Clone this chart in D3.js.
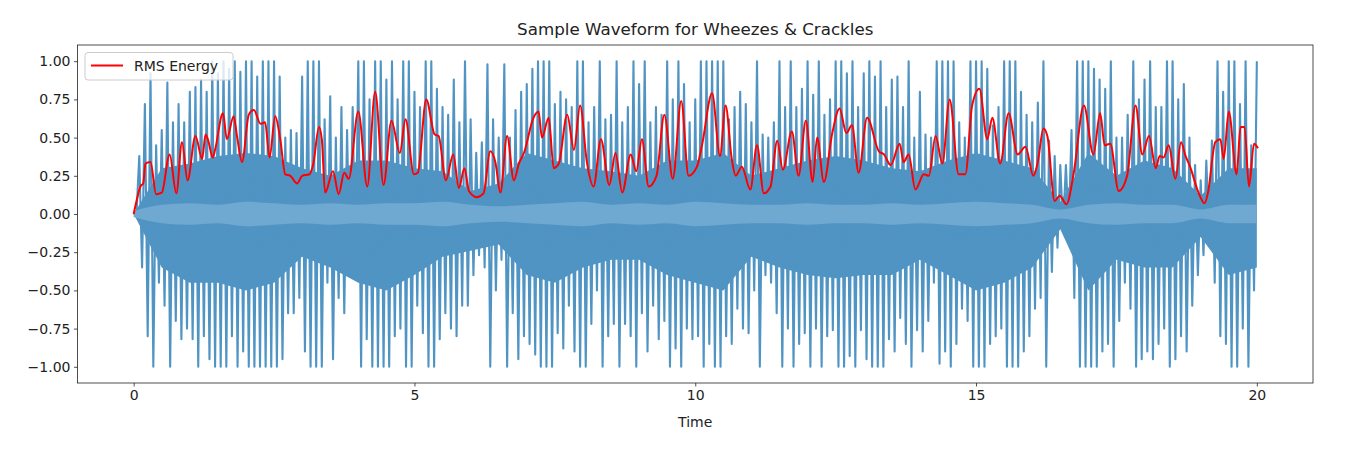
<!DOCTYPE html>
<html>
<head>
<meta charset="utf-8">
<script src="https://cdn.jsdelivr.net/npm/d3@7"></script>
<style>
  body { margin: 0; background: #fff; }
  text { font-family: "DejaVu Sans", sans-serif; fill: #222; }
</style>
</head>
<body>
<svg width="1355" height="451"></svg>
<script>

// waveform peaks, one pair every 0.1 s from 0 to 20 s
const waveStep = 0.1;
const waveTop = [
    0, 0.38, 0.72, 0.92, 0.45, 0.55, 0.86, 0.6, 0.72, 0.6,
    0.8, 0.83, 0.88, 0.8, 1, 0.92, 1, 0.95, 1, 0.93,
    1, 1, 0.9, 1, 1, 1, 0.9, 0.5, 0.55, 0.53,
    0.9, 1, 1, 1, 0.62, 0.77, 0.5, 0.7, 0.55, 0.7,
    1, 1, 0.75, 1, 1, 0.88, 1, 0.75, 1, 1,
    0.8, 0.7, 1, 1, 0.82, 0.7, 0.65, 0.88, 0.6, 1,
    0.62, 0.4, 0.47, 0.98, 0.62, 0.5, 0.98, 0.5, 0.68, 0.8,
    0.85, 0.95, 1, 1, 1, 0.72, 0.8, 0.75, 0.7, 1,
    1, 0.6, 0.7, 1, 0.62, 0.65, 1, 0.6, 0.7, 1,
    0.85, 1, 0.6, 0.7, 0.65, 1, 0.75, 1, 0.85, 0.6,
    0.75, 1, 1, 1, 1, 1, 0.62, 0.7, 0.8, 0.72,
    0.6, 1, 0.52, 0.5, 0.6, 1, 0.7, 1, 0.7, 0.82,
    1, 0.78, 1, 0.65, 0.75, 1, 1, 0.92, 1, 0.7,
    0.92, 1, 0.9, 1, 0.7, 0.88, 0.9, 0.7, 1, 0.5,
    0.8, 0.52, 0.5, 1, 1, 1, 1, 0.6, 0.5, 1,
    1, 1, 0.95, 0.58, 0.7, 1, 1, 1, 0.8, 0.65,
    0.6, 0.73, 1, 0.48, 0.38, 0.32, 0.32, 0.55, 1, 1,
    1, 0.95, 0.88, 0.82, 1, 0.5, 0.5, 0.65, 1, 0.75,
    0.88, 1, 0.7, 0.7, 1, 1, 0.75, 0.85, 0.5, 0.32,
    0.22, 0.35, 0.48, 1, 0.8, 1, 1, 0.72, 1, 0.45,
    1
];
const waveBottom = [
    0, -0.35, -0.8, -1, -0.45, -0.6, -1, -0.7, -0.82, -0.75,
    -0.82, -1, -0.8, -0.95, -1, -1, -1, -0.8, -1, -0.9,
    -1, -1, -1, -1, -1, -1, -0.95, -0.65, -0.65, -0.55,
    -0.9, -1, -1, -1, -0.45, -0.95, -0.55, -0.65, -0.4, -0.4,
    -1, -0.82, -1, -1, -1, -1, -0.8, -0.75, -1, -1,
    -0.6, -0.78, -1, -1, -0.82, -0.65, -0.75, -0.8, -0.6, -0.6,
    -0.4, -0.27, -0.35, -1, -0.5, -0.3, -1, -0.65, -0.95, -0.8,
    -0.85, -0.92, -1, -1, -1, -0.78, -0.88, -0.6, -0.9, -1,
    -1, -0.72, -0.5, -1, -0.8, -0.72, -1, -0.72, -0.8, -1,
    -0.65, -0.9, -0.6, -0.82, -0.7, -1, -0.88, -1, -0.75, -0.82,
    -0.8, -1, -0.85, -1, -1, -0.8, -0.85, -0.62, -0.75, -0.78,
    -0.5, -1, -0.4, -0.45, -0.65, -1, -0.75, -1, -0.85, -0.78,
    -1, -0.75, -1, -0.8, -0.76, -1, -1, -0.93, -1, -0.76,
    -0.95, -1, -1, -1, -0.82, -0.9, -0.68, -0.85, -1, -0.76,
    -0.9, -0.7, -0.45, -0.98, -0.9, -1, -0.85, -0.62, -0.7, -1,
    -1, -1, -0.85, -0.8, -0.75, -1, -1, -1, -0.9, -0.8,
    -0.62, -0.55, -1, -0.38, -0.22, -0.1, -0.1, -0.55, -1, -1,
    -1, -1, -0.9, -0.85, -1, -0.7, -0.45, -0.62, -1, -0.95,
    -0.9, -0.95, -0.85, -0.75, -1, -0.95, -0.8, -0.9, -0.6, -0.4,
    -0.27, -0.15, -0.45, -0.8, -0.85, -1, -1, -0.75, -1, -0.5,
    -1
];

// dense body of the waveform and the quiet band around zero, every 0.5 s
const bandStep = 0.5;
const bodyTop = [
    0, 0.3, 0.33, 0.38, 0.4, 0.38, 0.3, 0.25, 0.35, 0.35,
    0.3, 0.28, 0.15, 0.2, 0.4, 0.35, 0.3, 0.28, 0.25, 0.35,
    0.35, 0.4, 0.25, 0.3, 0.35, 0.38, 0.35, 0.3, 0.28, 0.35,
    0.4, 0.35, 0.3, 0.08, 0.4, 0.25, 0.35, 0.3, 0.12, 0.3,
    0.3
];
const bodyBottom = [
    0, -0.35, -0.45, -0.45, -0.5, -0.45, -0.28, -0.35, -0.45, -0.5,
    -0.4, -0.28, -0.24, -0.2, -0.4, -0.45, -0.35, -0.3, -0.3, -0.4,
    -0.45, -0.5, -0.28, -0.35, -0.4, -0.42, -0.4, -0.4, -0.3, -0.4,
    -0.5, -0.45, -0.35, -0.1, -0.5, -0.3, -0.35, -0.35, -0.15, -0.4,
    -0.35
];
const coreAmp = [
    0.02, 0.06, 0.07, 0.06, 0.08, 0.07, 0.06, 0.07, 0.06, 0.07,
    0.07, 0.08, 0.06, 0.05, 0.06, 0.07, 0.08, 0.06, 0.07, 0.06,
    0.08, 0.07, 0.06, 0.06, 0.07, 0.06, 0.06, 0.07, 0.06, 0.07,
    0.08, 0.07, 0.06, 0.03, 0.06, 0.07, 0.06, 0.06, 0.03, 0.06,
    0.06
];

const rmsTime = [
    0, 0.06, 0.12, 0.17, 0.21, 0.3, 0.4, 0.5, 0.64, 0.76, 0.86, 0.96,
    1.1, 1.22, 1.28, 1.32, 1.41, 1.45, 1.59, 1.66, 1.78, 1.84, 1.93,
    2.05, 2.14, 2.26, 2.34, 2.42, 2.52, 2.61, 2.7, 2.79, 2.91,
    3, 3.13, 3.2, 3.3, 3.35, 3.41, 3.55, 3.65, 3.75, 3.83,
    4, 4.16, 4.3, 4.45, 4.59, 4.74, 4.84, 4.99,
    5.06, 5.21, 5.36, 5.43, 5.56, 5.69, 5.79, 5.89, 5.97,
    6.11, 6.23, 6.35, 6.44, 6.53, 6.65, 6.77, 6.86, 6.95,
    7.12, 7.21, 7.27, 7.39, 7.48, 7.57, 7.72, 7.84, 7.95,
    8.07, 8.19, 8.32, 8.47, 8.58, 8.7, 8.85, 8.95,
    9.05, 9.17, 9.31, 9.45, 9.6, 9.75, 9.88,
    10.03, 10.12, 10.3, 10.44, 10.54, 10.65, 10.72, 10.83, 10.98,
    11.1, 11.22, 11.34, 11.46, 11.56, 11.72, 11.84, 11.97,
    12.09, 12.17, 12.29, 12.44, 12.57, 12.69, 12.79, 12.91,
    13.06, 13.27, 13.36, 13.48, 13.64, 13.71, 13.8, 13.92,
    14.07, 14.16, 14.28, 14.4, 14.53, 14.69, 14.81, 14.93,
    15.06, 15.2, 15.29, 15.43, 15.58, 15.74, 15.88,
    16.02, 16.1, 16.2, 16.27, 16.4, 16.49, 16.61, 16.74, 16.92,
    17.09, 17.21, 17.29, 17.39, 17.54, 17.69, 17.84, 17.96,
    18.08, 18.2, 18.27, 18.34, 18.43, 18.55, 18.65, 18.73, 18.82, 18.95,
    19.07, 19.13, 19.26, 19.35, 19.41, 19.5, 19.64, 19.71, 19.78, 19.86, 19.95,
    20.02
];
const rmsEnergy = [
    0, 0.1, 0.18, 0.2, 0.33, 0.34, 0.13, 0.14, 0.39, 0.135, 0.47, 0.22,
    0.51, 0.36, 0.52, 0.49, 0.37, 0.42, 0.66, 0.49, 0.64, 0.51, 0.34,
    0.65, 0.68, 0.59, 0.6, 0.37, 0.64, 0.49, 0.26, 0.25, 0.2,
    0.25, 0.26, 0.33, 0.57, 0.49, 0.14, 0.28, 0.13, 0.27, 0.23,
    0.67, 0.18, 0.8, 0.19, 0.61, 0.4, 0.62, 0.26,
    0.27, 0.75, 0.52, 0.51, 0.22, 0.39, 0.17, 0.3, 0.15,
    0.11, 0.135, 0.41, 0.34, 0.14, 0.51, 0.22, 0.33, 0.4,
    0.63, 0.67, 0.5, 0.63, 0.3, 0.33, 0.65, 0.42, 0.71,
    0.34, 0.18, 0.49, 0.19, 0.4, 0.14, 0.39, 0.28,
    0.49, 0.18, 0.25, 0.65, 0.23, 0.74, 0.25,
    0.31, 0.45, 0.79, 0.38, 0.71, 0.36, 0.25, 0.31, 0.16,
    0.45, 0.135, 0.18, 0.48, 0.29, 0.54, 0.25, 0.61,
    0.21, 0.5, 0.21, 0.53, 0.69, 0.53, 0.58, 0.27,
    0.63, 0.41, 0.39, 0.32, 0.46, 0.34, 0.39, 0.16,
    0.26, 0.25, 0.51, 0.33, 0.75, 0.26, 0.26, 0.71,
    0.82, 0.49, 0.63, 0.33, 0.66, 0.39, 0.44,
    0.25, 0.34, 0.56, 0.51, 0.085, 0.12, 0.063, 0.27, 0.71,
    0.39, 0.66, 0.45, 0.46, 0.15, 0.25, 0.71, 0.39,
    0.51, 0.3, 0.38, 0.37, 0.45, 0.23, 0.47, 0.38, 0.3, 0.15,
    0.07, 0.14, 0.47, 0.49, 0.36, 0.67, 0.26, 0.57, 0.57, 0.18, 0.46,
    0.43
];

const xTicks = [0, 5, 10, 15, 20];
const yTicks = [-1, -0.75, -0.5, -0.25, 0, 0.25, 0.5, 0.75, 1];

const svg = d3.select('svg');
const plotLeft = 77.5, plotRight = 1313, plotTop = 45, plotBottom = 383;

const x = d3.scaleLinear().domain([-1, 21]).range([plotLeft, plotRight]);
const y = d3.scaleLinear().domain([-1.106, 1.106]).range([plotBottom, plotTop]);

// waveform: up to each top peak, then down to the next bottom peak
const zig = [];
waveTop.forEach((v, i) => {
    zig.push([i * waveStep, v]);
    zig.push([i * waveStep + waveStep / 2, waveBottom[i]]);
});
zig.pop();

const wave = svg.append('g').attr('opacity', 0.78);

wave.append('path')
    .datum(bodyTop)
    .attr('fill', '#1f77b4')
    .attr('d', d3.area()
        .x((d, i) => x(i * bandStep))
        .y0((d, i) => y(bodyBottom[i]))
        .y1(d => y(d)));

wave.append('path')
    .datum(zig)
    .attr('fill', 'none')
    .attr('stroke', '#1f77b4')
    .attr('stroke-width', 2.1)
    .attr('stroke-linejoin', 'round')
    .attr('d', d3.line().x(d => x(d[0])).y(d => y(d[1])));

svg.append('path')
    .datum(coreAmp)
    .attr('fill', '#6fa8d1')
    .attr('d', d3.area()
        .x((d, i) => x(i * bandStep))
        .y0(d => y(-d))
        .y1(d => y(d))
        .curve(d3.curveMonotoneX));

svg.append('path')
    .datum(rmsTime.map((t, i) => [t, rmsEnergy[i]]))
    .attr('fill', 'none')
    .attr('stroke', 'red')
    .attr('stroke-width', 2)
    .attr('d', d3.line().x(d => x(d[0])).y(d => y(d[1])).curve(d3.curveMonotoneX));

// axes
const xAxis = svg.append('g')
    .attr('transform', `translate(0,${plotBottom})`)
    .call(d3.axisBottom(x).tickValues(xTicks).tickSize(3.5).tickPadding(3.5).tickFormat(d3.format('d')));
const yAxis = svg.append('g')
    .attr('transform', `translate(${plotLeft},0)`)
    .call(d3.axisLeft(y).tickValues(yTicks).tickSize(3.5).tickPadding(3.5).tickFormat(d3.format('.2f')));

[xAxis, yAxis].forEach(g => {
    g.select('.domain').remove();
    g.selectAll('line').attr('stroke', '#222').attr('stroke-width', 0.8);
    g.selectAll('text').attr('font-size', 14).attr('font-family', 'DejaVu Sans').attr('fill', '#222');
});

svg.append('rect')
    .attr('x', plotLeft).attr('y', plotTop)
    .attr('width', plotRight - plotLeft).attr('height', plotBottom - plotTop)
    .attr('fill', 'none')
    .attr('stroke', '#222')
    .attr('stroke-width', 0.8);

svg.append('text')
    .attr('x', (plotLeft + plotRight) / 2).attr('y', 35)
    .attr('text-anchor', 'middle')
    .attr('font-size', 16.7)
    .text('Sample Waveform for Wheezes & Crackles');

svg.append('text')
    .attr('x', (plotLeft + plotRight) / 2).attr('y', 427)
    .attr('text-anchor', 'middle')
    .attr('font-size', 14)
    .text('Time');

// legend
const legend = svg.append('g');
legend.append('rect')
    .attr('x', 85).attr('y', 52.5)
    .attr('width', 148).attr('height', 27.5)
    .attr('rx', 3)
    .attr('fill', 'white').attr('fill-opacity', 0.8)
    .attr('stroke', '#ccc');
legend.append('line')
    .attr('x1', 91).attr('x2', 123)
    .attr('y1', 65.5).attr('y2', 65.5)
    .attr('stroke', 'red').attr('stroke-width', 2);
legend.append('text')
    .attr('x', 134).attr('y', 71)
    .attr('font-size', 14)
    .text('RMS Energy');

</script>
</body>
</html>
